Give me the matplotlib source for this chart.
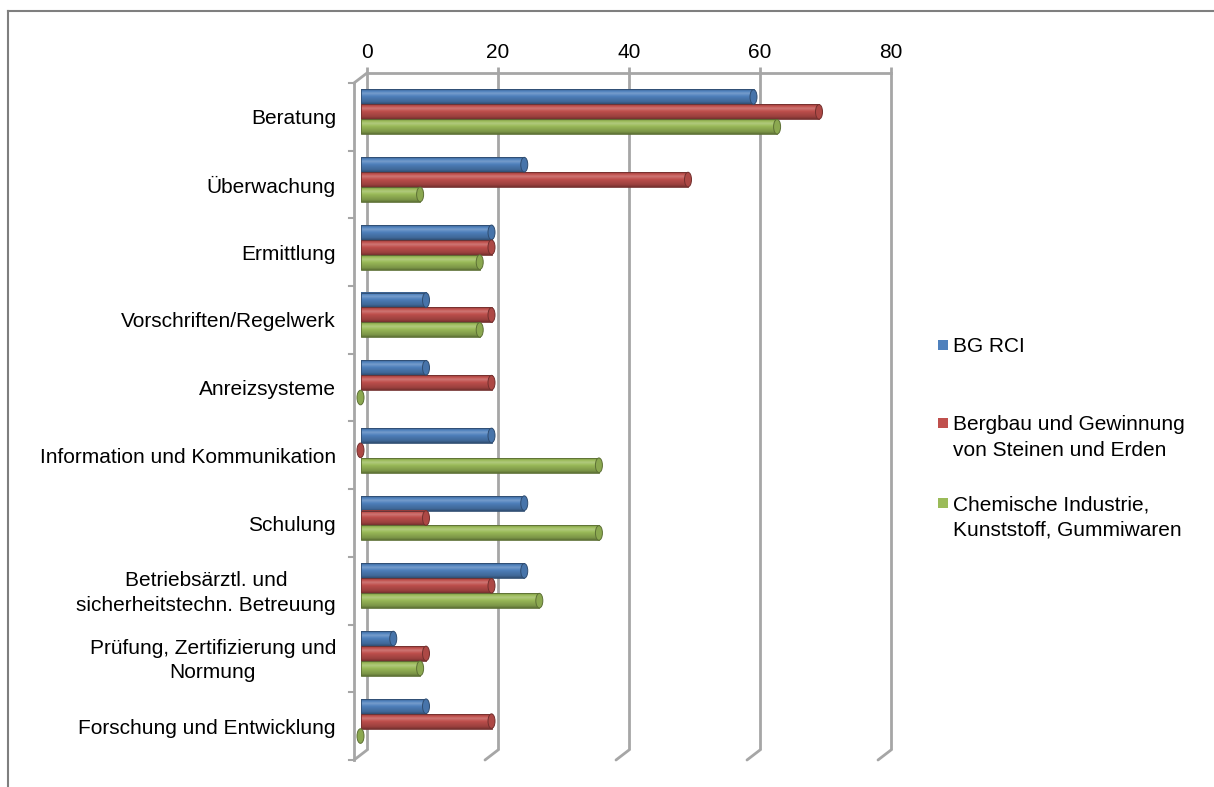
import matplotlib
matplotlib.use("Agg")
import matplotlib.pyplot as plt
import numpy as np
from matplotlib.patches import Ellipse, Rectangle
from matplotlib.lines import Line2D

# ---------------- data ----------------
categories = [
    "Beratung",
    "Überwachung",
    "Ermittlung",
    "Vorschriften/Regelwerk",
    "Anreizsysteme",
    "Information und Kommunikation",
    "Schulung",
    "Betriebsärztl. und\nsicherheitstechn. Betreuung",
    "Prüfung, Zertifizierung und\nNormung",
    "Forschung und Entwicklung",
]
series_names = [
    "BG RCI",
    "Bergbau und Gewinnung\nvon Steinen und Erden",
    "Chemische Industrie,\nKunststoff, Gummiwaren",
]
bg_rci = [60, 25, 20, 10, 10, 20, 25, 25, 5, 10]
bergbau = [70, 50, 20, 20, 20, 0, 10, 20, 10, 20]
chemie = [63.6, 9.1, 18.2, 18.2, 0, 36.4, 36.4, 27.3, 9.1, 0]
x_ticks = [0, 20, 40, 60, 80]
colors = ["#4F81BD", "#C0504D", "#9BBB59"]

# ---------------- layout ----------------
W, H = 1214, 787
DPI = 100
plt.rcParams["font.family"] = ["Liberation Sans", "DejaVu Sans"]
FS = 15

fig = plt.figure(figsize=(W / DPI, H / DPI), dpi=DPI)
fig.patch.set_facecolor("white")

# back wall of the 3D plot area in pixels
bx0, bx1, by0, by1 = 367, 891, 73, 750
ax = fig.add_axes([bx0 / W, (H - by1) / H, (bx1 - bx0) / W, (by1 - by0) / H])
ax.set_facecolor("none")
n = len(categories)
xmax = 80
ppx = (bx1 - bx0) / xmax          # pixels per value unit
ppy = (by1 - by0) / n             # pixels per category

depth_dx, depth_dy = -13, 10      # pixel offset back -> front
ddx = depth_dx / ppx
ddy = depth_dy / ppy

grid_col = "#A6A6A6"
glw = 2.0
top = -0.5
bot = n - 0.5

# back wall gridlines + floor lines
for v in x_ticks:
    ax.plot([v, v], [top, bot], color=grid_col, lw=glw, zorder=1, clip_on=False,
            solid_capstyle="butt")
    ax.plot([v, v + ddx], [bot, bot + ddy], color=grid_col, lw=glw, zorder=1,
            clip_on=False, solid_capstyle="round")
# top edge of back wall
ax.plot([0, xmax], [top, top], color=grid_col, lw=glw, zorder=1, clip_on=False)
# left wall front edge and top diagonal
ax.plot([ddx, ddx], [top + ddy, bot + ddy], color=grid_col, lw=glw, zorder=1,
        clip_on=False)
ax.plot([0, ddx], [top, top + ddy], color=grid_col, lw=glw, zorder=1, clip_on=False)
# category tick marks on the left front edge
for k in range(n + 1):
    yk = top + k + ddy
    ax.plot([ddx, ddx - 5 / ppx], [yk, yk], color=grid_col, lw=1.5, zorder=1,
            clip_on=False)


def shade(c, f):
    rgb = np.array(matplotlib.colors.to_rgb(c))
    if f >= 1:
        return tuple(rgb + (1 - rgb) * (f - 1))
    return tuple(rgb * f)


def gradient(c, N=64):
    nodes_t = [0.0, 0.1, 0.28, 0.5, 0.85, 1.0]
    nodes_f = [0.7, 0.95, 1.22, 0.97, 0.8, 0.6]
    t = np.linspace(0, 1, N)
    f = np.interp(t, nodes_t, nodes_f)
    return np.array([shade(c, fi) for fi in f]).reshape(N, 1, 3)


# bars at half depth
bdx = ddx / 2
bdy = ddy / 2
bh = 14.9 / ppy
capw = 7 / ppx
all_series = [bg_rci, bergbau, chemie]
for si, (vals, col) in enumerate(zip(all_series, colors)):
    grad = gradient(col)
    for i, v in enumerate(vals):
        yc = i + bdy + (si - 1) * bh
        x0 = bdx
        x1 = v + bdx
        if v > 0:
            ax.imshow(grad, extent=[x0, x1, yc + bh / 2, yc - bh / 2],
                      aspect="auto", interpolation="bilinear", zorder=3,
                      clip_on=False)
            ax.add_patch(Rectangle((x0, yc - bh / 2), x1 - x0, bh, fill=False,
                                   edgecolor=shade(col, 0.6), lw=0.6, zorder=3.5,
                                   clip_on=False))
        ax.add_patch(Ellipse((x1, yc), capw, bh * 0.98, facecolor=shade(col, 0.9),
                             edgecolor=shade(col, 0.6), lw=0.7, zorder=4,
                             clip_on=False))

ax.set_xlim(0, xmax)
ax.set_ylim(bot, top)
for s in ax.spines.values():
    s.set_visible(False)
ax.set_yticks([])
ax.xaxis.set_ticks_position("top")
ax.set_xticks(x_ticks)
ax.set_xticklabels([str(t) for t in x_ticks], fontsize=FS)
ax.tick_params(axis="x", length=4, width=2, color=grid_col, pad=4, direction="out")

# category labels
for i, lab in enumerate(categories):
    ax.text(-31 / ppx, i + ddy + 2 / ppy, lab, ha="right", va="center", fontsize=FS,
            multialignment="center", linespacing=1.38, clip_on=False)

# legend (manual)
leg_y = [345, 423, 503]
for name, col, yy in zip(series_names, colors, leg_y):
    fig.patches.append(Rectangle((938 / W, 1 - (yy + 5) / H), 10 / W, 10 / H,
                                 transform=fig.transFigure, facecolor=col,
                                 edgecolor="none"))
    for li, line in enumerate(name.split("\n")):
        fig.text(953 / W, 1 - (yy + li * 25) / H, line, ha="left",
                 va="center_baseline", fontsize=FS)

# outer frame (left and top edges visible)
frame_col = "#7F7F7F"
fig.add_artist(Line2D([8 / W, 8 / W], [0, 1 - 11 / H], transform=fig.transFigure,
                      color=frame_col, lw=1.5))
fig.add_artist(Line2D([8 / W, 1], [1 - 11 / H, 1 - 11 / H], transform=fig.transFigure,
                      color=frame_col, lw=1.5))

fig.savefig("out.png", dpi=DPI, facecolor="white")
